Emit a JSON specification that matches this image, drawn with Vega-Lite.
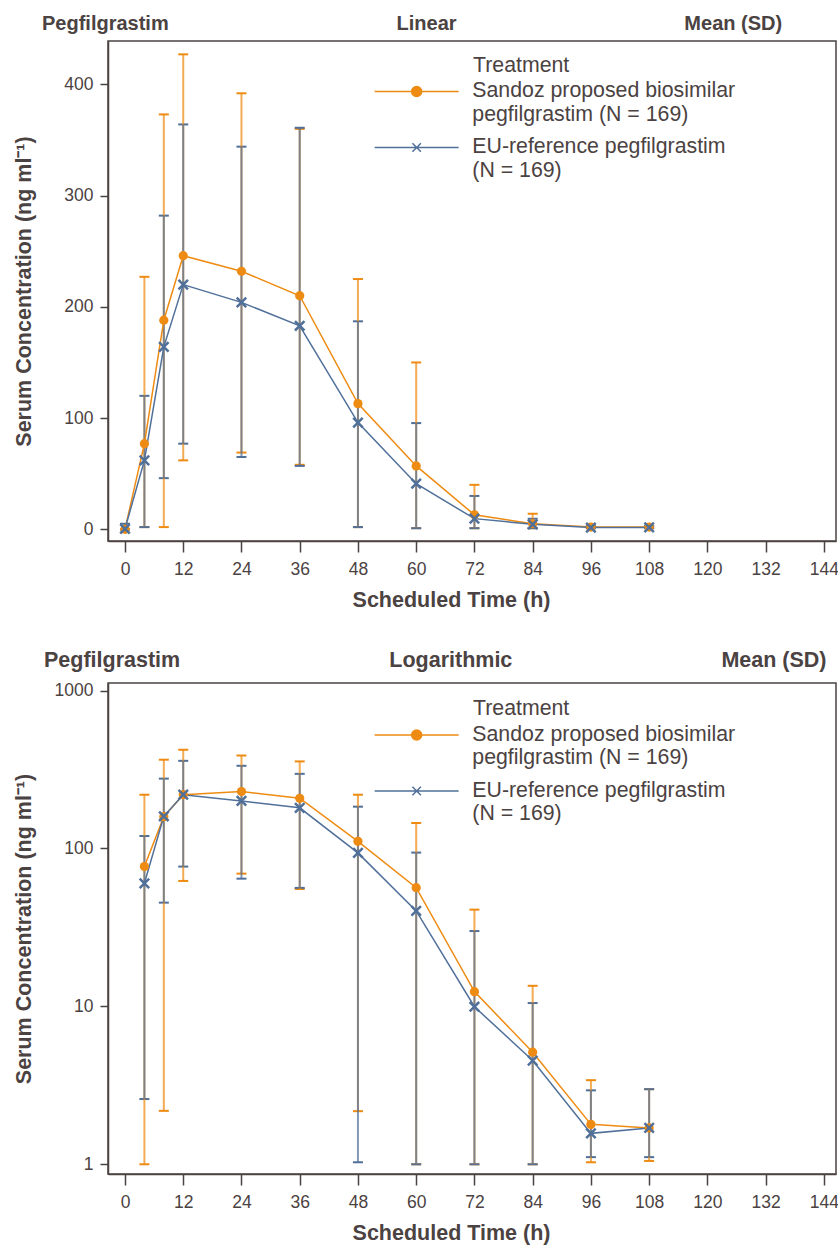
{
  "$schema": "https://vega.github.io/schema/vega-lite/v6.json",
  "background": "white",
  "padding": {"left": 12, "top": 13, "right": 4, "bottom": 2},
  "config": {
    "font": "Liberation Sans",
    "view": {"stroke": "#4B4242", "strokeWidth": 1.5},
    "axis": {
      "domainColor": "#4B4242", "domainWidth": 1.5,
      "tickColor": "#4B4242", "tickWidth": 1.5,
      "labelColor": "#4B4242", "labelFontSize": 17.5, "labelFont": "Liberation Sans",
      "titleColor": "#4B4242", "titleFontSize": 21.5, "titleFont": "Liberation Sans", "titleFontWeight": "bold",
      "grid": false
    },
    "legend": {
      "orient": "none",
      "labelFont": "Liberation Sans", "titleFont": "Liberation Sans",
      "labelFontSize": 21.3, "titleFontSize": 21.3, "titleFontWeight": "normal",
      "labelColor": "#4B4242", "titleColor": "#4B4242",
      "labelLimit": 0, "symbolSize": 100, "symbolStrokeWidth": 1.5,
      "labelOffset": 45, "rowPadding": 10, "titlePadding": 5
    }
  },
  "datasets": {
    "linear": [
      {"trt": "Sandoz proposed biosimilar pegfilgrastim (N = 169)", "time": 0, "mean": 0, "lo": 0, "hi": 0},
      {"trt": "Sandoz proposed biosimilar pegfilgrastim (N = 169)", "time": 4, "mean": 77, "lo": 2, "hi": 227},
      {"trt": "Sandoz proposed biosimilar pegfilgrastim (N = 169)", "time": 8, "mean": 188, "lo": 2, "hi": 373},
      {"trt": "Sandoz proposed biosimilar pegfilgrastim (N = 169)", "time": 12, "mean": 246, "lo": 62, "hi": 427},
      {"trt": "Sandoz proposed biosimilar pegfilgrastim (N = 169)", "time": 24, "mean": 232, "lo": 69, "hi": 392},
      {"trt": "Sandoz proposed biosimilar pegfilgrastim (N = 169)", "time": 36, "mean": 210, "lo": 58, "hi": 360},
      {"trt": "Sandoz proposed biosimilar pegfilgrastim (N = 169)", "time": 48, "mean": 113, "lo": 2, "hi": 225},
      {"trt": "Sandoz proposed biosimilar pegfilgrastim (N = 169)", "time": 60, "mean": 57, "lo": 1, "hi": 150},
      {"trt": "Sandoz proposed biosimilar pegfilgrastim (N = 169)", "time": 72, "mean": 13, "lo": 1, "hi": 40},
      {"trt": "Sandoz proposed biosimilar pegfilgrastim (N = 169)", "time": 84, "mean": 5, "lo": 1, "hi": 14},
      {"trt": "Sandoz proposed biosimilar pegfilgrastim (N = 169)", "time": 96, "mean": 2, "lo": 1, "hi": 3.5},
      {"trt": "Sandoz proposed biosimilar pegfilgrastim (N = 169)", "time": 108, "mean": 2, "lo": 1, "hi": 3},
      {"trt": "EU-reference pegfilgrastim (N = 169)", "time": 0, "mean": 0.5, "lo": 0, "hi": 5},
      {"trt": "EU-reference pegfilgrastim (N = 169)", "time": 4, "mean": 62, "lo": 2, "hi": 120},
      {"trt": "EU-reference pegfilgrastim (N = 169)", "time": 8, "mean": 164, "lo": 46, "hi": 282},
      {"trt": "EU-reference pegfilgrastim (N = 169)", "time": 12, "mean": 220, "lo": 77, "hi": 364},
      {"trt": "EU-reference pegfilgrastim (N = 169)", "time": 24, "mean": 204, "lo": 65, "hi": 344},
      {"trt": "EU-reference pegfilgrastim (N = 169)", "time": 36, "mean": 183, "lo": 57, "hi": 361},
      {"trt": "EU-reference pegfilgrastim (N = 169)", "time": 48, "mean": 96, "lo": 2, "hi": 187},
      {"trt": "EU-reference pegfilgrastim (N = 169)", "time": 60, "mean": 41, "lo": 1, "hi": 95.5},
      {"trt": "EU-reference pegfilgrastim (N = 169)", "time": 72, "mean": 9.6, "lo": 1, "hi": 30},
      {"trt": "EU-reference pegfilgrastim (N = 169)", "time": 84, "mean": 4.5, "lo": 1, "hi": 9.5},
      {"trt": "EU-reference pegfilgrastim (N = 169)", "time": 96, "mean": 1.6, "lo": 1, "hi": 3},
      {"trt": "EU-reference pegfilgrastim (N = 169)", "time": 108, "mean": 1.7, "lo": 1, "hi": 3}
    ],
    "log": [
      {"trt": "Sandoz proposed biosimilar pegfilgrastim (N = 169)", "time": 4, "mean": 76.8, "lo": 1.0, "hi": 219},
      {"trt": "Sandoz proposed biosimilar pegfilgrastim (N = 169)", "time": 8, "mean": 159, "lo": 2.18, "hi": 365},
      {"trt": "Sandoz proposed biosimilar pegfilgrastim (N = 169)", "time": 12, "mean": 219, "lo": 62.3, "hi": 422},
      {"trt": "Sandoz proposed biosimilar pegfilgrastim (N = 169)", "time": 24, "mean": 229.6, "lo": 69.3, "hi": 388},
      {"trt": "Sandoz proposed biosimilar pegfilgrastim (N = 169)", "time": 36, "mean": 208, "lo": 55.4, "hi": 356},
      {"trt": "Sandoz proposed biosimilar pegfilgrastim (N = 169)", "time": 48, "mean": 111, "lo": 2.17, "hi": 219},
      {"trt": "Sandoz proposed biosimilar pegfilgrastim (N = 169)", "time": 60, "mean": 56.5, "lo": 1.0, "hi": 145},
      {"trt": "Sandoz proposed biosimilar pegfilgrastim (N = 169)", "time": 72, "mean": 12.4, "lo": 1.0, "hi": 41},
      {"trt": "Sandoz proposed biosimilar pegfilgrastim (N = 169)", "time": 84, "mean": 5.13, "lo": 1.0, "hi": 13.5},
      {"trt": "Sandoz proposed biosimilar pegfilgrastim (N = 169)", "time": 96, "mean": 1.79, "lo": 1.03, "hi": 3.41},
      {"trt": "Sandoz proposed biosimilar pegfilgrastim (N = 169)", "time": 108, "mean": 1.70, "lo": 1.05, "hi": 2.99},
      {"trt": "EU-reference pegfilgrastim (N = 169)", "time": 4, "mean": 60.2, "lo": 2.59, "hi": 120},
      {"trt": "EU-reference pegfilgrastim (N = 169)", "time": 8, "mean": 160, "lo": 45.4, "hi": 277},
      {"trt": "EU-reference pegfilgrastim (N = 169)", "time": 12, "mean": 219, "lo": 76.8, "hi": 359},
      {"trt": "EU-reference pegfilgrastim (N = 169)", "time": 24, "mean": 200, "lo": 64.4, "hi": 334},
      {"trt": "EU-reference pegfilgrastim (N = 169)", "time": 36, "mean": 181, "lo": 56.3, "hi": 297},
      {"trt": "EU-reference pegfilgrastim (N = 169)", "time": 48, "mean": 93.8, "lo": 1.03, "hi": 184},
      {"trt": "EU-reference pegfilgrastim (N = 169)", "time": 60, "mean": 40.2, "lo": 1.0, "hi": 94.2},
      {"trt": "EU-reference pegfilgrastim (N = 169)", "time": 72, "mean": 9.95, "lo": 1.0, "hi": 30},
      {"trt": "EU-reference pegfilgrastim (N = 169)", "time": 84, "mean": 4.54, "lo": 1.0, "hi": 10.5},
      {"trt": "EU-reference pegfilgrastim (N = 169)", "time": 96, "mean": 1.57, "lo": 1.11, "hi": 2.94},
      {"trt": "EU-reference pegfilgrastim (N = 169)", "time": 108, "mean": 1.70, "lo": 1.11, "hi": 2.99}
    ]
  },
  "resolve": {"scale": {"color": "independent", "x": "independent", "y": "independent"}, "legend": {"color": "independent"}},
  "spacing": 36,
  "vconcat": [
    {
      "width": 728,
      "height": 500,
      "data": {"name": "linear"},
      "title": {
        "text": "Pegfilgrastim\u00a0\u00a0\u00a0\u00a0\u00a0\u00a0\u00a0\u00a0\u00a0\u00a0\u00a0\u00a0\u00a0\u00a0\u00a0\u00a0\u00a0\u00a0\u00a0\u00a0\u00a0\u00a0\u00a0\u00a0\u00a0\u00a0\u00a0\u00a0\u00a0\u00a0\u00a0\u00a0\u00a0\u00a0\u00a0\u00a0\u00a0\u00a0\u00a0\u00a0\u00a0Linear\u00a0\u00a0\u00a0\u00a0\u00a0\u00a0\u00a0\u00a0\u00a0\u00a0\u00a0\u00a0\u00a0\u00a0\u00a0\u00a0\u00a0\u00a0\u00a0\u00a0\u00a0\u00a0\u00a0\u00a0\u00a0\u00a0\u00a0\u00a0\u00a0\u00a0\u00a0\u00a0\u00a0\u00a0\u00a0\u00a0\u00a0\u00a0\u00a0\u00a0\u00a0Mean (SD)",
        "anchor": "start", "frame": "group", "dx": -66, "dy": 9.3, "fontSize": 20, "fontWeight": "bold",
        "color": "#4B4242", "font": "Liberation Sans", "offset": 0, "baseline": "alphabetic"
      },
      "encoding": {
        "x": {
          "field": "time", "type": "quantitative",
          "scale": {"domain": [-3.5, 146.5], "nice": false, "zero": false},
          "axis": {"values": [0, 12, 24, 36, 48, 60, 72, 84, 96, 108, 120, 132, 144], "title": "Scheduled Time (h)", "tickSize": 11, "labelPadding": 8, "titlePadding": 12, "titleX": 343}
        }
      },
      "layer": [
        {
          "mark": {"type": "errorbar", "rule": {"strokeWidth": 2, "opacity": 0.72}, "ticks": {"size": 10, "thickness": 2, "opacity": 1}},
          "encoding": {
            "y": {"field": "lo", "type": "quantitative", "title": "Serum Concentration (ng ml\u207b\u00b9)",
              "scale": {"domain": [-10.5, 439], "nice": false, "zero": false},
              "axis": {"values": [0, 100, 200, 300, 400], "tickSize": 8, "labelPadding": 7, "titlePadding": 28}},
            "y2": {"field": "hi"},
            "color": {
              "field": "trt", "type": "nominal",
              "scale": {"domain": ["Sandoz proposed biosimilar pegfilgrastim (N = 169)", "EU-reference pegfilgrastim (N = 169)"], "range": ["#EE8B12", "#50709A"]}
            }
          }
        },
        {
          "mark": {"type": "line", "strokeWidth": 1.5},
          "encoding": {
            "y": {"field": "mean", "type": "quantitative", "title": "Serum Concentration (ng ml\u207b\u00b9)"},
            "color": {
              "field": "trt", "type": "nominal",
              "legend": {
                "title": "Treatment", "legendX": 298, "legendY": 13.5,
                "labelExpr": "indexof(datum.label, 'EU') === 0 ? ['EU-reference pegfilgrastim', '(N = 169)'] : ['Sandoz proposed biosimilar', 'pegfilgrastim (N = 169)']",
                "encode": {
                  "symbols": {"update": {
                    "shape": {"signal": "indexof(datum.value, 'EU') === 0 ? 'M-8.4,0L8.4,0M-0.85,-0.85L0.85,0.85M-0.85,0.85L0.85,-0.85' : 'M-8.4,0L8.4,0M-1,0A1,1,0,1,1,1,0A1,1,0,1,1,-1,0Z'"},
                    "fill": {"signal": "indexof(datum.value, 'EU') === 0 ? 'transparent' : '#EE8B12'"},
                    "stroke": {"signal": "indexof(datum.value, 'EU') === 0 ? '#50709A' : '#EE8B12'"},
                    "opacity": {"value": 1},
                    "strokeWidth": {"value": 1.5}
                  }},
                  "labels": {"update": {"lineHeight": {"value": 23.4}}},
                  "title": {"update": {"dx": {"value": 67}}}
                }
              }
            }
          }
        },
        {
          "transform": [{"filter": "indexof(datum.trt, 'Sandoz') === 0"}],
          "mark": {"type": "point", "shape": "circle", "filled": true, "size": 85, "opacity": 1},
          "encoding": {
            "y": {"field": "mean", "type": "quantitative", "title": "Serum Concentration (ng ml\u207b\u00b9)"},
            "color": {"field": "trt", "type": "nominal"}
          }
        },
        {
          "transform": [{"filter": "indexof(datum.trt, 'EU') === 0"}],
          "mark": {"type": "point", "shape": "M-1,-1L1,1M-1,1L1,-1", "filled": false, "size": 90, "strokeWidth": 2.5, "opacity": 1},
          "encoding": {
            "y": {"field": "mean", "type": "quantitative", "title": "Serum Concentration (ng ml\u207b\u00b9)"},
            "color": {"field": "trt", "type": "nominal"}
          }
        }
      ]
    },
    {
      "width": 728,
      "height": 491,
      "data": {"name": "log"},
      "title": {
        "text": "Pegfilgrastim\u00a0\u00a0\u00a0\u00a0\u00a0\u00a0\u00a0\u00a0\u00a0\u00a0\u00a0\u00a0\u00a0\u00a0\u00a0\u00a0\u00a0\u00a0\u00a0\u00a0\u00a0\u00a0\u00a0\u00a0\u00a0\u00a0\u00a0\u00a0\u00a0\u00a0\u00a0\u00a0\u00a0\u00a0\u00a0Logarithmic\u00a0\u00a0\u00a0\u00a0\u00a0\u00a0\u00a0\u00a0\u00a0\u00a0\u00a0\u00a0\u00a0\u00a0\u00a0\u00a0\u00a0\u00a0\u00a0\u00a0\u00a0\u00a0\u00a0\u00a0\u00a0\u00a0\u00a0\u00a0\u00a0\u00a0\u00a0\u00a0\u00a0\u00a0\u00a0Mean (SD)",
        "anchor": "start", "frame": "group", "dx": -64, "dy": 6.5, "fontSize": 21.5, "fontWeight": "bold",
        "color": "#4B4242", "font": "Liberation Sans", "offset": 0, "baseline": "alphabetic"
      },
      "encoding": {
        "x": {
          "field": "time", "type": "quantitative",
          "scale": {"domain": [-3.5, 146.5], "nice": false, "zero": false},
          "axis": {"values": [0, 12, 24, 36, 48, 60, 72, 84, 96, 108, 120, 132, 144], "title": "Scheduled Time (h)", "tickSize": 11, "labelPadding": 8, "titlePadding": 12, "titleX": 343}
        }
      },
      "layer": [
        {
          "mark": {"type": "errorbar", "rule": {"strokeWidth": 2, "opacity": 0.72}, "ticks": {"size": 10, "thickness": 2, "opacity": 1}},
          "encoding": {
            "y": {"field": "lo", "type": "quantitative", "title": "Serum Concentration (ng ml\u207b\u00b9)",
              "scale": {"type": "log", "domain": [0.868, 1117], "nice": false},
              "axis": {"values": [1, 10, 100, 1000], "format": "d", "tickSize": 8, "labelPadding": 7, "titlePadding": 18.6}},
            "y2": {"field": "hi"},
            "color": {
              "field": "trt", "type": "nominal",
              "scale": {"domain": ["Sandoz proposed biosimilar pegfilgrastim (N = 169)", "EU-reference pegfilgrastim (N = 169)"], "range": ["#EE8B12", "#50709A"]}
            }
          }
        },
        {
          "mark": {"type": "line", "strokeWidth": 1.5},
          "encoding": {
            "y": {"field": "mean", "type": "quantitative", "title": "Serum Concentration (ng ml\u207b\u00b9)"},
            "color": {
              "field": "trt", "type": "nominal",
              "legend": {
                "title": "Treatment", "legendX": 298, "legendY": 15,
                "labelExpr": "indexof(datum.label, 'EU') === 0 ? ['EU-reference pegfilgrastim', '(N = 169)'] : ['Sandoz proposed biosimilar', 'pegfilgrastim (N = 169)']",
                "encode": {
                  "symbols": {"update": {
                    "shape": {"signal": "indexof(datum.value, 'EU') === 0 ? 'M-8.4,0L8.4,0M-0.85,-0.85L0.85,0.85M-0.85,0.85L0.85,-0.85' : 'M-8.4,0L8.4,0M-1,0A1,1,0,1,1,1,0A1,1,0,1,1,-1,0Z'"},
                    "fill": {"signal": "indexof(datum.value, 'EU') === 0 ? 'transparent' : '#EE8B12'"},
                    "stroke": {"signal": "indexof(datum.value, 'EU') === 0 ? '#50709A' : '#EE8B12'"},
                    "opacity": {"value": 1},
                    "strokeWidth": {"value": 1.5}
                  }},
                  "labels": {"update": {"lineHeight": {"value": 23.4}}},
                  "title": {"update": {"dx": {"value": 67}}}
                }
              }
            }
          }
        },
        {
          "transform": [{"filter": "indexof(datum.trt, 'Sandoz') === 0"}],
          "mark": {"type": "point", "shape": "circle", "filled": true, "size": 85, "opacity": 1},
          "encoding": {
            "y": {"field": "mean", "type": "quantitative", "title": "Serum Concentration (ng ml\u207b\u00b9)"},
            "color": {"field": "trt", "type": "nominal"}
          }
        },
        {
          "transform": [{"filter": "indexof(datum.trt, 'EU') === 0"}],
          "mark": {"type": "point", "shape": "M-1,-1L1,1M-1,1L1,-1", "filled": false, "size": 90, "strokeWidth": 2.5, "opacity": 1},
          "encoding": {
            "y": {"field": "mean", "type": "quantitative", "title": "Serum Concentration (ng ml\u207b\u00b9)"},
            "color": {"field": "trt", "type": "nominal"}
          }
        }
      ]
    }
  ]
}
